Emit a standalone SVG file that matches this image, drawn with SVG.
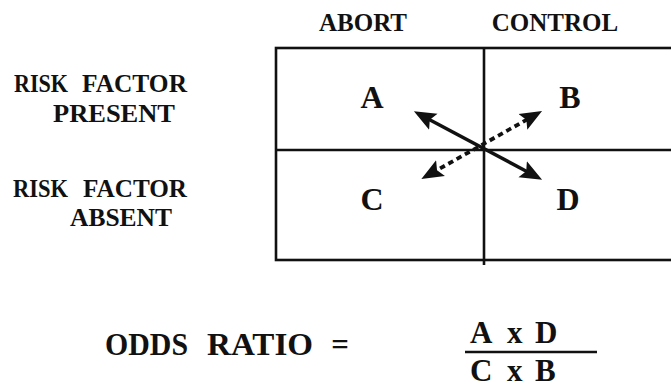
<svg xmlns="http://www.w3.org/2000/svg" width="671" height="383" viewBox="0 0 671 383">
  <style>
    text { font-family: "Liberation Serif", "DejaVu Serif", "Times New Roman", serif; font-weight: 700; fill: #111; }
    .hdr { font-size: 25px; text-anchor: middle; }
    .row { font-size: 26px; }
    .cell { font-size: 32px; text-anchor: middle; }
    .formula { font-size: 31px; }
    .grid { stroke: #111; stroke-width: 2.6; fill: none; }
    .arrow { stroke: #111; stroke-width: 3.4; fill: none; marker-start: url(#head); marker-end: url(#head); }
    .dashed { stroke-width: 3.8; stroke-dasharray: 5.5 4; }
  </style>
  <defs>
    <marker id="head" markerUnits="userSpaceOnUse" markerWidth="24" markerHeight="20" refX="10" refY="9" orient="auto-start-reverse" viewBox="0 0 24 18">
      <path d="M0,0 L22,9 L0,18 L4,9 z" fill="#111"/>
    </marker>
  </defs>
  <rect width="671" height="383" fill="#fff"/>

  <g id="header-abort"><text class="hdr" x="363" y="31">ABORT</text></g>
  <g id="header-control"><text class="hdr" x="555" y="31">CONTROL</text></g>

  <g id="row-present">
    <text class="row" y="92"><tspan x="14" textLength="54" lengthAdjust="spacingAndGlyphs">RISK</tspan> <tspan x="82" textLength="105" lengthAdjust="spacingAndGlyphs">FACTOR</tspan></text>
    <text class="row" x="53" y="122" textLength="122" lengthAdjust="spacingAndGlyphs">PRESENT</text>
  </g>
  <g id="row-absent">
    <text class="row" y="197"><tspan x="13" textLength="55" lengthAdjust="spacingAndGlyphs">RISK</tspan> <tspan x="83" textLength="104" lengthAdjust="spacingAndGlyphs">FACTOR</tspan></text>
    <text class="row" x="70" y="226" textLength="102" lengthAdjust="spacingAndGlyphs">ABSENT</text>
  </g>

  <g id="table">
    <rect class="grid" x="276" y="48" width="420" height="212"/>
    <line class="grid" x1="276" y1="150" x2="680" y2="150"/>
    <line class="grid" x1="484" y1="48" x2="484" y2="265"/>
  </g>

  <g id="cell-a"><text class="cell" x="372" y="108">A</text></g>
  <g id="cell-b"><text class="cell" x="570" y="108">B</text></g>
  <g id="cell-c"><text class="cell" x="372" y="210">C</text></g>
  <g id="cell-d"><text class="cell" x="568" y="210">D</text></g>

  <g id="connectors">
    <line class="arrow" x1="424.5" y1="117" x2="531.5" y2="174"/>
    <line class="arrow dashed" x1="431.8" y1="173.1" x2="531.6" y2="116.9"/>
  </g>

  <g id="formula">
    <text class="formula" y="355"><tspan x="105" textLength="83" lengthAdjust="spacingAndGlyphs">ODDS</tspan> <tspan x="207" textLength="106" lengthAdjust="spacingAndGlyphs">RATIO</tspan></text>
    <text class="formula" x="340" y="355" text-anchor="middle">=</text>
    <text class="formula" y="343"><tspan x="470">A</tspan> <tspan x="507">x</tspan> <tspan x="535">D</tspan></text>
    <line x1="465" y1="352" x2="597" y2="352" stroke="#111" stroke-width="2.6"/>
    <text class="formula" y="381"><tspan x="470">C</tspan> <tspan x="507">x</tspan> <tspan x="535">B</tspan></text>
  </g>
</svg>
